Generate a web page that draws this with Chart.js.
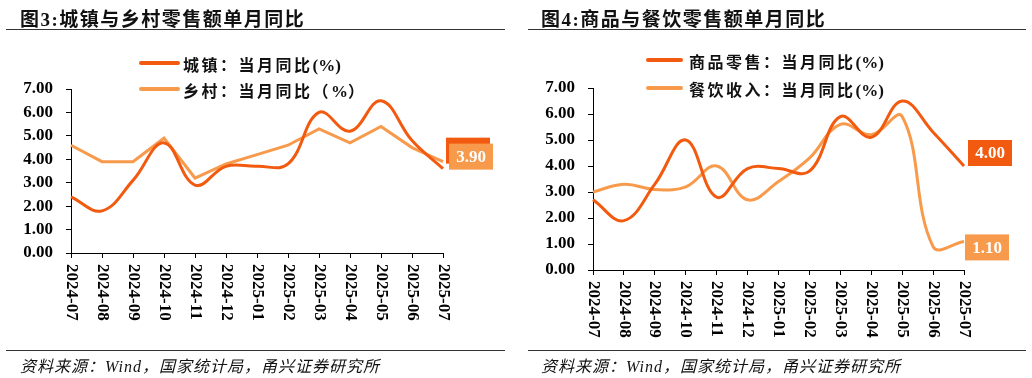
<!DOCTYPE html>
<html>
<head>
<meta charset="utf-8">
<script src="https://cdn.jsdelivr.net/npm/chart.js@4.4.1/dist/chart.umd.min.js"></script>
<style>
  body { margin: 0; background: #fff; }
  #wrap { position: relative; width: 1032px; height: 378px; overflow: hidden; font-family: "Liberation Serif", "Noto Sans CJK SC", serif; }
  canvas { position: absolute; top: 0; }
  .title { position: absolute; top: 4px; font-size: 19px; font-weight: bold; letter-spacing: 1.5px; color: #111; white-space: nowrap; }
  .rule { position: absolute; height: 1px; background: #333; }
  .legend { position: absolute; font-size: 16px; font-weight: bold; letter-spacing: 2.5px; color: #111; white-space: nowrap; }
  .legend i { position: absolute; height: 4px; border-radius: 2px; }
  .legend span { position: absolute; top: -11px; }
  .legend b { letter-spacing: 0; font-size: 17px; }
  .source { position: absolute; top: 353px; font-size: 16px; font-style: italic; letter-spacing: 1px; color: #111; white-space: nowrap; }
</style>
</head>
<body>
<div id="wrap">
  <canvas id="c1" width="516" height="378" style="left:0"></canvas>
  <canvas id="c2" width="516" height="378" style="left:516px"></canvas>

  <div class="title" style="left:20px">图3:城镇与乡村零售额单月同比</div>
  <div class="rule" style="left:6px; width:499px; top:29px"></div>
  <div class="title" style="left:541px">图4:商品与餐饮零售额单月同比</div>
  <div class="rule" style="left:528px; width:498px; top:29px"></div>

  <div class="legend" style="left:139px; top:63px"><i style="left:0; width:41px; top:-2px; background:#F25A0F"></i><span style="left:44px">城镇：当月同比<b>(%)</b></span></div>
  <div class="legend" style="left:139px; top:89px"><i style="left:0; width:41px; top:-2px; background:#F89A4C"></i><span style="left:44px">乡村：当月同比（<b>%</b>）</span></div>
  <div class="legend" style="left:646px; top:60px"><i style="left:0; width:37px; top:-2px; background:#F25A0F"></i><span style="left:43px">商品零售：当月同比<b>(%)</b></span></div>
  <div class="legend" style="left:646px; top:88px"><i style="left:0; width:37px; top:-2px; background:#F89A4C"></i><span style="left:43px">餐饮收入：当月同比<b>(%)</b></span></div>

  <div class="rule" style="left:6px; width:499px; top:350px"></div>
  <div class="source" style="left:20px">资料来源：Wind，国家统计局，甬兴证券研究所</div>
  <div class="rule" style="left:528px; width:498px; top:350px"></div>
  <div class="source" style="left:541px">资料来源：Wind，国家统计局，甬兴证券研究所</div>
</div>

<script>
const months = ['2024-07', '2024-08', '2024-09', '2024-10', '2024-11', '2024-12', '2025-01', '2025-02', '2025-03', '2025-04', '2025-05', '2025-06', '2025-07'];

// 图3
const urban = [2.4, 1.8, 3.1, 4.7, 2.9, 3.7, 3.7, 3.8, 6.0, 5.2, 6.5, 4.8, 3.6];
const rural = [4.6, 3.9, 3.9, 4.9, 3.2, 3.8, 4.2, 4.6, 5.3, 4.7, 5.4, 4.5, 3.9];

// 图4
const goods = [2.7, 1.9, 3.3, 5.0, 2.8, 3.9, 3.9, 3.8, 5.9, 5.1, 6.5, 5.3, 4.0];
const catering = [3.0, 3.3, 3.1, 3.2, 4.0, 2.7, 3.4, 4.3, 5.6, 5.2, 5.9, 0.9, 1.1];

const yTicks = [0, 1, 2, 3, 4, 5, 6, 7];

const DARK = '#F25A0F';
const LIGHT = '#F89A4C';
const numFont = '"Liberation Serif", "Times New Roman", serif';

// rotated month labels (reading top to bottom) + value boxes at last point
const extras = {
  id: 'extras',
  afterDraw(chart, args, opts) {
    const ctx = chart.ctx;
    const xs = chart.scales.x;
    ctx.save();
    ctx.fillStyle = '#000';
    ctx.font = 'bold 17px ' + numFont;
    ctx.textAlign = 'left';
    ctx.textBaseline = 'middle';
    chart.data.labels.forEach((lab, i) => {
      ctx.save();
      ctx.translate(xs.getPixelForValue(i), xs.top + 11);
      ctx.rotate(Math.PI / 2);
      ctx.fillText(lab, 0, 0);
      ctx.restore();
    });

    (opts.boxes || []).forEach(b => {
      const meta = chart.getDatasetMeta(b.ds);
      const pt = meta.data[meta.data.length - 1];
      const ds = chart.data.datasets[b.ds];
      const v = ds.data[ds.data.length - 1];
      const x = pt.x + b.dx, y = pt.y + b.dy;
      ctx.fillStyle = ds.borderColor;
      ctx.fillRect(x, y - 13, 44, 26);
      ctx.fillStyle = '#fff';
      ctx.textAlign = 'center';
      ctx.fillText(v.toFixed(2), x + 22, y + 1);
    });
    ctx.restore();
  }
};

function makeChart(id, a, b, smoothB, yWidth, padding, boxes) {
  return new Chart(document.getElementById(id), {
    type: 'line',
    data: {
      labels: months,
      datasets: [
        { data: a, borderColor: DARK, borderWidth: 3, pointRadius: 0, tension: 0.4, fill: false },
        { data: b, borderColor: LIGHT, borderWidth: 3, pointRadius: 0, tension: smoothB ? 0.4 : 0, fill: false }
      ]
    },
    options: {
      responsive: false,
      animation: false,
      layout: { padding: padding },
      plugins: {
        legend: { display: false },
        tooltip: { enabled: false },
        extras: { boxes: boxes }
      },
      scales: {
        x: {
          offset: false,
          grid: { drawOnChartArea: false, drawTicks: true, tickLength: 5, color: '#000' },
          border: { display: true, color: '#000', width: 1 },
          ticks: { display: false },
          afterFit(s) { s.height = 90; }
        },
        y: {
          min: yTicks[0],
          max: yTicks[yTicks.length - 1],
          afterBuildTicks(s) { s.ticks = yTicks.map(v => ({ value: v })); },
          grid: { drawOnChartArea: false, drawTicks: true, tickLength: 5, color: '#000' },
          border: { display: true, color: '#000', width: 1 },
          ticks: {
            padding: 13,
            color: '#000',
            font: { family: numFont, size: 17, weight: 'bold' },
            callback: v => v.toFixed(2)
          },
          afterFit(s) { s.width = yWidth; }
        }
      }
    },
    plugins: [extras]
  });
}

makeChart('c1', urban, rural, false, 71, { left: 0, top: 89, right: 73, bottom: 35 },
  [{ ds: 0, dx: 3, dy: -18 }, { ds: 1, dx: 6, dy: -5 }]);
makeChart('c2', goods, catering, true, 77, { left: 0, top: 88, right: 68, bottom: 18 },
  [{ ds: 0, dx: 4, dy: -13 }, { ds: 1, dx: 1, dy: 6 }]);
</script>
</body>
</html>
